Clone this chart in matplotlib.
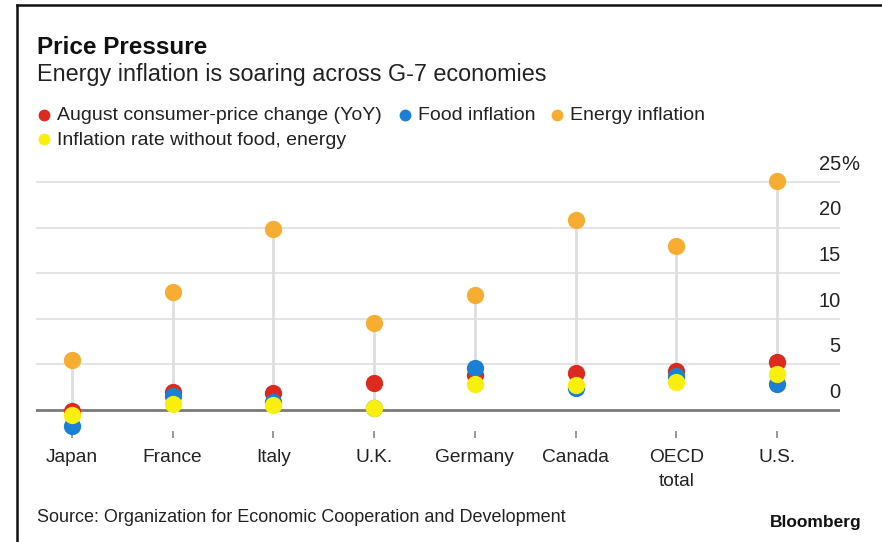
import numpy as np
import matplotlib.pyplot as plt
from matplotlib.lines import Line2D
from matplotlib.transforms import blended_transform_factory

plt.rcParams['font.family'] = ['Liberation Sans', 'DejaVu Sans']

countries = ['Japan', 'France', 'Italy', 'U.K.', 'Germany', 'Canada', 'OECD\ntotal', 'U.S.']
cpi_change = [-0.1, 2.0, 1.9, 3.0, 3.8, 4.1, 4.3, 5.3]
food_infl = [-1.7, 1.5, 0.9, 0.2, 4.6, 2.4, 3.7, 2.85]
energy_infl = [5.5, 12.9, 19.8, 9.5, 12.6, 20.8, 18.0, 25.1]
core_infl = [-0.6, 0.65, 0.55, 0.2, 2.85, 2.7, 3.1, 4.0]
y_ticks = [0, 5, 10, 15, 20, 25]

RED = '#dc2a1f'
BLUE = '#1b7fd3'
ORANGE = '#f6ad32'
YELLOW = '#f9ef0c'

fig = plt.figure(figsize=(8.82, 5.42), dpi=100)
ax = fig.add_axes([36 / 882, 1 - 438 / 542, (840 - 36) / 882, (438 - 172.9) / 542])

x = np.arange(len(countries))
ax.set_xlim(-0.357, 7.626)
ax.set_ylim(-3.07, 26)

for v in y_ticks[1:]:
    ax.axhline(v, color='#e3e3e3', lw=1.5, zorder=0)
ax.axhline(0, color='#7a7a7a', lw=2, zorder=1)

lo = np.minimum.reduce([cpi_change, food_infl, core_infl])
ax.vlines(x, lo, energy_infl, color='#dedede', lw=2, zorder=2)

ms = 155
ax.scatter(x, cpi_change, s=ms, color=RED, zorder=3, clip_on=False, lw=0)
ax.scatter(x, food_infl, s=ms, color=BLUE, zorder=4, clip_on=False, lw=0)
ax.scatter(x, energy_infl, s=ms, color=ORANGE, zorder=5, clip_on=False, lw=0)
ax.scatter(x, core_infl, s=ms, color=YELLOW, zorder=6, clip_on=False, lw=0)

for s in ax.spines.values():
    s.set_visible(False)
ax.set_yticks([])
ax.set_xticks(x)
ax.set_xticklabels(countries, fontsize=13.8, color='#222222', linespacing=1.55, va='top')
ax.tick_params(axis='x', direction='in', length=5, width=1.2, color='#888888', pad=8)

# y labels sit above the gridlines, on the right
tr = blended_transform_factory(ax.transAxes, ax.transData)
for v in y_ticks:
    ax.text(1.001, v + 1.95, str(v), transform=tr, ha='right', va='center',
            fontsize=14.5, color='#222222')
ax.text(1.001, 25 + 1.95, '%', transform=tr, ha='left', va='center',
        fontsize=14.5, color='#222222')

fig.text(37 / 882, 1 - 47 / 542, 'Price Pressure', fontsize=17.5, fontweight='bold',
         color='#111111', va='center')
fig.text(37 / 882, 1 - 75 / 542, 'Energy inflation is soaring across G-7 economies',
         fontsize=16.8, color='#222222', va='center')

legend_items = [
    ('August consumer-price change (YoY)', RED, 44, 116),
    ('Food inflation', BLUE, 405, 116),
    ('Energy inflation', ORANGE, 557, 116),
    ('Inflation rate without food, energy', YELLOW, 44, 140),
]
for label, col, px, py in legend_items:
    fig.add_artist(Line2D([px / 882], [1 - (py - 1) / 542], marker='o', markersize=8.5,
                          color=col, markeredgewidth=0, transform=fig.transFigure))
    fig.text((px + 13) / 882, 1 - py / 542, label, fontsize=14, color='#222222', va='center')

fig.text(37 / 882, 1 - 517 / 542, 'Source: Organization for Economic Cooperation and Development',
         fontsize=13, color='#222222', va='center')
fig.text(862 / 882, 1 - 523 / 542, 'Bloomberg', fontsize=12.5, fontweight='bold',
         color='#111111', va='center', ha='right')

# frame border
fig.add_artist(Line2D([17 / 882, 1], [1 - 5 / 542, 1 - 5 / 542], color='#111111', lw=1.8,
                      transform=fig.transFigure))
fig.add_artist(Line2D([17 / 882, 17 / 882], [0, 1 - 5 / 542], color='#111111', lw=1.8,
                      transform=fig.transFigure))

fig.savefig('out.png', dpi=100)
